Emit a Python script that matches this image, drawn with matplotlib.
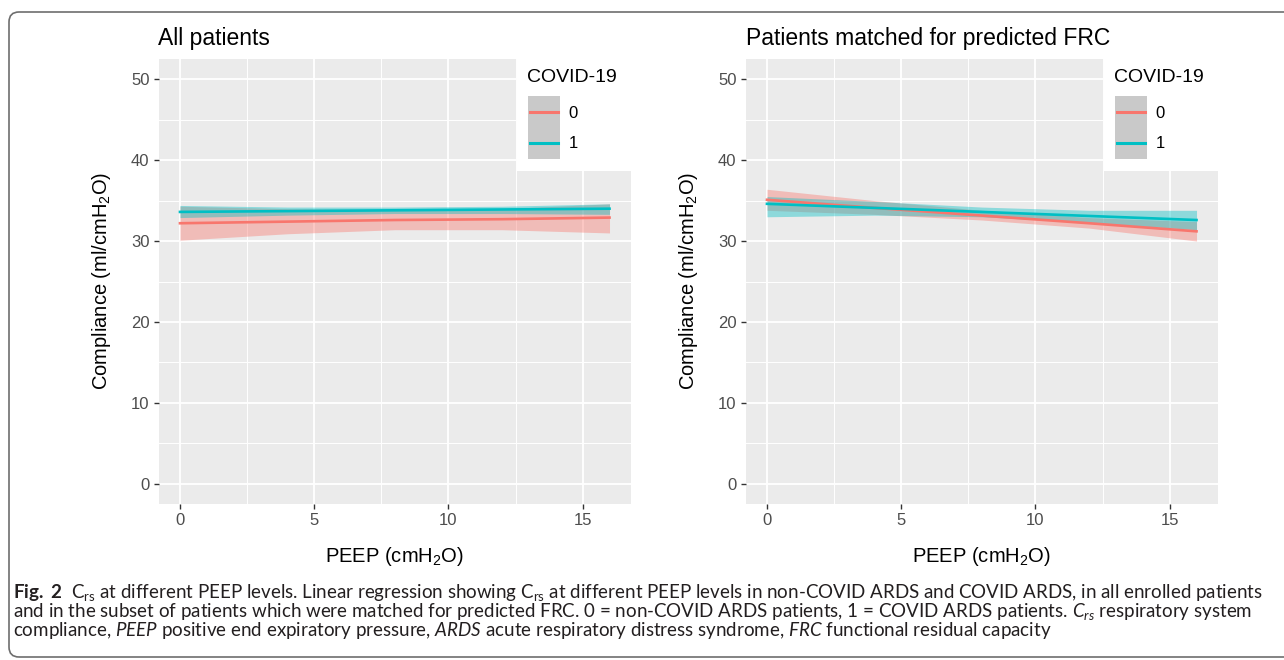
import matplotlib
matplotlib.use("Agg")
import matplotlib.pyplot as plt
from matplotlib.patches import FancyBboxPatch, Rectangle
from matplotlib.transforms import IdentityTransform

# fitted line and confidence band at these PEEP values
peep = [0, 4, 8, 12, 16]

# all patients
all_fit_0 = [32.2, 32.4, 32.6, 32.7, 32.9]
all_lo_0 = [30.1, 30.9, 31.4, 31.4, 31.0]
all_hi_0 = [34.3, 34.0, 33.9, 34.0, 34.6]
all_fit_1 = [33.6, 33.7, 33.8, 33.9, 34.0]
all_lo_1 = [32.9, 33.2, 33.4, 33.4, 33.3]
all_hi_1 = [34.4, 34.2, 34.2, 34.3, 34.6]

# patients matched for predicted FRC
frc_fit_0 = [35.1, 34.1, 33.15, 32.2, 31.2]
frc_lo_0 = [33.8, 33.3, 32.6, 31.6, 30.0]
frc_hi_0 = [36.4, 35.0, 33.8, 32.9, 32.4]
frc_fit_1 = [34.6, 34.1, 33.6, 33.1, 32.6]
frc_lo_1 = [33.0, 33.2, 33.0, 32.3, 31.4]
frc_hi_1 = [35.5, 34.9, 34.2, 33.8, 33.8]

x_ticks = [0, 5, 10, 15]
y_ticks = [0, 10, 20, 30, 40, 50]
groups = ["0", "1"]
titles = ["All patients", "Patients matched for predicted FRC"]

COLORS = {"0": "#F8766D", "1": "#00BFC4"}
W, H = 1284, 660

plt.rcParams["font.family"] = "Liberation Sans"
plt.rcParams["mathtext.fontset"] = "custom"
plt.rcParams["mathtext.rm"] = "Lato"
plt.rcParams["mathtext.it"] = "Lato:italic"
plt.rcParams["mathtext.bf"] = "Lato:bold"

fig = plt.figure(figsize=(W / 100, H / 100), dpi=100)


def fx(px):
    return px / W


def fy(py):
    return 1 - py / H


def panel(x0, series, title):
    ax = fig.add_axes([fx(x0), fy(504), fx(472.5), 445 / H])
    ax.set_facecolor("#EBEBEB")
    for s in ax.spines.values():
        s.set_visible(False)
    ax.set_xlim(-0.8, 16.8)
    ax.set_ylim(-2.5, 52.5)
    ax.set_xticks(x_ticks)
    ax.set_yticks(y_ticks)
    ax.set_xticks([2.5, 7.5, 12.5], minor=True)
    ax.set_yticks([5, 15, 25, 35, 45], minor=True)
    ax.grid(which="major", color="white", linewidth=1.3)
    ax.grid(which="minor", color="white", linewidth=0.7)
    ax.set_axisbelow(True)
    ax.tick_params(which="major", length=3.5, width=1, color="#333333",
                   labelsize=12, labelcolor="#4D4D4D", pad=3)
    ax.tick_params(which="minor", length=0)
    for g, (fit, lo, hi) in zip(groups, series):
        ax.fill_between(peep, lo, hi, color=COLORS[g], alpha=0.4, linewidth=0)
    for g, (fit, lo, hi) in zip(groups, series):
        ax.plot(peep, fit, color=COLORS[g], linewidth=1.9)

    fig.text(fx(x0), fy(45), title, fontsize=16.5, ha="left", va="baseline")
    fig.text(fx(x0 + 236), fy(557), r"PEEP (cmH$\mathregular{_2}$O)",
             fontsize=14.5, ha="center", va="center")
    fig.text(fx(x0 - 57), fy(281), r"Compliance (ml/cmH$\mathregular{_2}$O)",
             fontsize=14.5, ha="center", va="center", rotation=90)

    # legend drawn on top of the panel, as in the original layout
    fig.add_artist(Rectangle((fx(x0 + 358.5), fy(171)), fx(125), 120 / H,
                             transform=fig.transFigure, facecolor="white",
                             edgecolor="none", zorder=5))
    fig.text(fx(x0 + 368.5), fy(78), "COVID-19", fontsize=14, ha="left",
             va="center", zorder=6)
    fig.add_artist(Rectangle((fx(x0 + 369.5), fy(159)), fx(32), 63 / H,
                             transform=fig.transFigure, facecolor="#C9C9C9",
                             edgecolor="none", zorder=6))
    for g, ky in zip(groups, [112, 143]):
        fig.add_artist(plt.Line2D([fx(x0 + 371.5), fx(x0 + 399.5)], [fy(ky), fy(ky)],
                                  color=COLORS[g], linewidth=2.2, zorder=7))
        fig.text(fx(x0 + 410), fy(ky + 1), g, fontsize=12, ha="left",
                 va="center", zorder=7)
    return ax


panel(158.5, [(all_fit_0, all_lo_0, all_hi_0), (all_fit_1, all_lo_1, all_hi_1)],
      titles[0])
panel(745.5, [(frc_fit_0, frc_lo_0, frc_hi_0), (frc_fit_1, frc_lo_1, frc_hi_1)],
      titles[1])

# caption
cap = [
    r"$\mathbf{Fig.\ 2}$  C$\mathregular{_{rs}}$ at different PEEP levels. Linear regression "
    r"showing C$\mathregular{_{rs}}$ at different PEEP levels in non-COVID ARDS and COVID ARDS,"
    r" in all enrolled patients",
    r"and in the subset of patients which were matched for predicted FRC. 0 = non-COVID ARDS "
    r"patients, 1 = COVID ARDS patients. $\mathit{C_{rs}}$ respiratory system",
    r"compliance, $\mathit{PEEP}$ positive end expiratory pressure, $\mathit{ARDS}$ acute "
    r"respiratory distress syndrome, $\mathit{FRC}$ functional residual capacity",
]
for line, base in zip(cap, [598, 617, 636]):
    fig.text(fx(13), fy(base), line, fontsize=13.5, family="Lato", color="#231F20",
             ha="left", va="baseline")

fig.add_artist(FancyBboxPatch((9, 3), 1320, 645, boxstyle="round,pad=0,rounding_size=10",
                              transform=IdentityTransform(), facecolor="none",
                              edgecolor="#6E6E6E", linewidth=1.2, zorder=10))

fig.savefig("out.png", dpi=100)
